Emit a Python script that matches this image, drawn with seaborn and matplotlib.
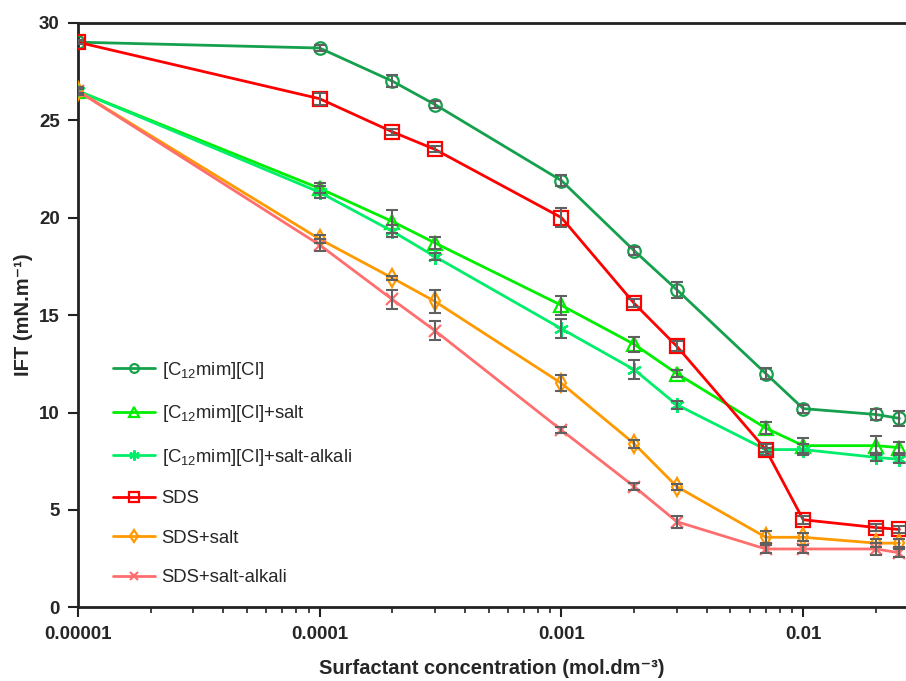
import numpy as np
import pandas as pd
import matplotlib
matplotlib.use("Agg")
import matplotlib.pyplot as plt
import matplotlib.ticker as mticker
import seaborn as sns

sns.set_style("ticks")
plt.rcParams["font.family"] = ["Liberation Sans", "DejaVu Sans"]
plt.rcParams["mathtext.fontset"] = "custom"
plt.rcParams["mathtext.rm"] = "Liberation Sans"
plt.rcParams["mathtext.default"] = "regular"

conc = [1e-5, 1e-4, 2e-4, 3e-4, 1e-3, 2e-3, 3e-3, 7e-3, 1e-2, 2e-2, 2.5e-2]

il = [29.0, 28.7, 27.0, 25.8, 21.9, 18.3, 16.3, 12.0, 10.2, 9.9, 9.7]
il_salt = [26.5, 21.5, 19.8, 18.7, 15.5, 13.5, 12.0, 9.2, 8.3, 8.3, 8.2]
il_salt_alk = [26.5, 21.3, 19.3, 18.0, 14.3, 12.2, 10.4, 8.1, 8.1, 7.7, 7.6]
sds = [29.0, 26.1, 24.4, 23.5, 20.0, 15.6, 13.4, 8.1, 4.5, 4.1, 4.0]
sds_salt = [26.5, 18.9, 16.9, 15.7, 11.5, 8.4, 6.2, 3.6, 3.6, 3.3, 3.3]
sds_salt_alk = [26.5, 18.6, 15.8, 14.2, 9.1, 6.2, 4.4, 3.0, 3.0, 3.0, 2.8]

err_il = [0.1, 0.15, 0.3, 0.2, 0.3, 0.2, 0.4, 0.3, 0.2, 0.3, 0.4]
err_il_salt = [0.2, 0.25, 0.6, 0.3, 0.5, 0.4, 0.2, 0.3, 0.4, 0.5, 0.3]
err_il_salt_alk = [0.2, 0.3, 0.3, 0.2, 0.5, 0.5, 0.2, 0.1, 0.3, 0.2, 0.2]
err_sds = [0.1, 0.3, 0.15, 0.15, 0.5, 0.2, 0.25, 0.3, 0.2, 0.2, 0.2]
err_sds_salt = [0.1, 0.2, 0.1, 0.6, 0.4, 0.2, 0.15, 0.3, 0.2, 0.2, 0.2]
err_sds_salt_alk = [0.2, 0.3, 0.5, 0.5, 0.15, 0.2, 0.3, 0.2, 0.2, 0.3, 0.2]

labels = ["[C$_{12}$mim][Cl]", "[C$_{12}$mim][Cl]+salt", "[C$_{12}$mim][Cl]+salt-alkali",
          "SDS", "SDS+salt", "SDS+salt-alkali"]
series = [il, il_salt, il_salt_alk, sds, sds_salt, sds_salt_alk]
errors = [err_il, err_il_salt, err_il_salt_alk, err_sds, err_sds_salt, err_sds_salt_alk]
colors = ["#14A04C", "#00EE00", "#00EE6A", "#FF0000", "#FF9900", "#FF6E6E"]
markers = ["o", "^", (6, 2, 0), "s", "d", "x"]
msizes = [9, 9.5, 10.5, 9.5, 9, 9]

fig = plt.figure(figsize=(9.06, 6.81), dpi=100)
ax = fig.add_axes([0.0858, 0.108, 0.9142, 0.8587])

for lab, vals, err, col, mk, ms in zip(labels, series, errors, colors, markers, msizes):
    df = pd.DataFrame({"conc": conc, "ift": vals})
    sns.lineplot(data=df, x="conc", y="ift", ax=ax, color=col, linewidth=2.0,
                 marker=mk, markersize=ms, markerfacecolor="none",
                 markeredgecolor=col, markeredgewidth=1.6, label=lab, zorder=3)
    ax.errorbar(conc, vals, yerr=err, fmt="none", ecolor="#606060",
                elinewidth=1.5, capsize=4.5, capthick=1.5, zorder=4)

ax.set_xscale("log")
ax.set_xlim(1e-5, 0.0266)
ax.set_ylim(0, 30)
ax.set_yticks([0, 5, 10, 15, 20, 25, 30])
ax.xaxis.set_major_locator(mticker.FixedLocator([1e-5, 1e-4, 1e-3, 1e-2]))
ax.xaxis.set_major_formatter(mticker.FixedFormatter(["0.00001", "0.0001", "0.001", "0.01"]))
ax.xaxis.set_minor_locator(mticker.LogLocator(base=10, subs=np.arange(2, 10), numticks=20))
ax.xaxis.set_minor_formatter(mticker.NullFormatter())

for lbl in ax.get_xticklabels() + ax.get_yticklabels():
    lbl.set_fontweight("bold")
    lbl.set_fontsize(13.5)
ax.tick_params(axis="both", which="major", direction="out", length=7, width=1.5, color="#222222", pad=6)
ax.tick_params(axis="x", which="minor", direction="out", length=4, width=1.2, color="#222222")

for side in ["left", "bottom", "top"]:
    ax.spines[side].set_linewidth(2.0)
    ax.spines[side].set_color("#222222")
ax.spines["right"].set_visible(False)

ax.set_xlabel("Surfactant concentration (mol.dm\u207b\u00b3)", fontsize=14.5, fontweight="bold", labelpad=12)
ax.set_ylabel("IFT (mN.m\u207b\u00b9)", fontsize=14.5, fontweight="bold", labelpad=4)

leg = ax.legend(loc="upper left", bbox_to_anchor=(0.022, 0.452), frameon=False,
                fontsize=13.3, handlelength=2.3, labelspacing=1.22, handletextpad=0.35,
                markerscale=0.7)

fig.savefig("out.png", dpi=100)
